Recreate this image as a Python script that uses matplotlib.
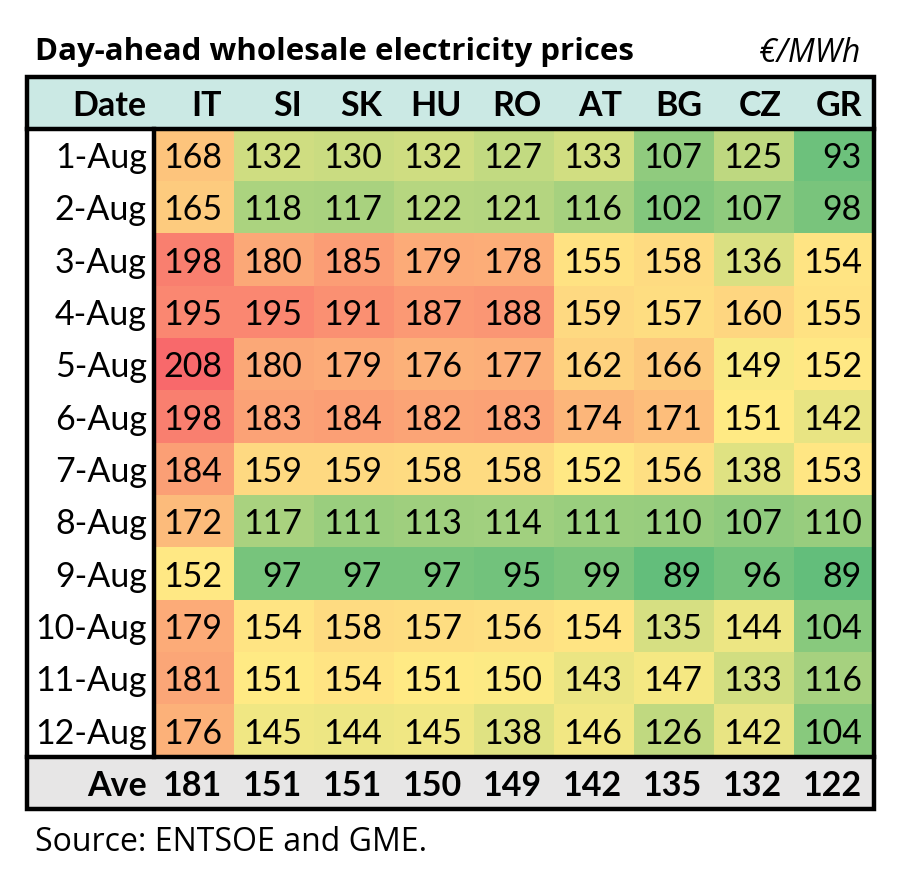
import numpy as np
import matplotlib
matplotlib.use("Agg")
import matplotlib.pyplot as plt
from matplotlib.colors import LinearSegmentedColormap, TwoSlopeNorm
from matplotlib.patches import Rectangle

countries = ["IT", "SI", "SK", "HU", "RO", "AT", "BG", "CZ", "GR"]
dates = ["1-Aug", "2-Aug", "3-Aug", "4-Aug", "5-Aug", "6-Aug", "7-Aug",
         "8-Aug", "9-Aug", "10-Aug", "11-Aug", "12-Aug"]
IT = [168, 165, 198, 195, 208, 198, 184, 172, 152, 179, 181, 176]
SI = [132, 118, 180, 195, 180, 183, 159, 117, 97, 154, 151, 145]
SK = [130, 117, 185, 191, 179, 184, 159, 111, 97, 158, 154, 144]
HU = [132, 122, 179, 187, 176, 182, 158, 113, 97, 157, 151, 145]
RO = [127, 121, 178, 188, 177, 183, 158, 114, 95, 156, 150, 138]
AT = [133, 116, 155, 159, 162, 174, 152, 111, 99, 154, 143, 146]
BG = [107, 102, 158, 157, 166, 171, 156, 110, 89, 135, 147, 126]
CZ = [125, 107, 136, 160, 149, 151, 138, 107, 96, 144, 133, 142]
GR = [93, 98, 154, 155, 152, 142, 153, 110, 89, 104, 116, 104]
averages = [181, 151, 151, 150, 149, 142, 135, 132, 122]

data = np.array([IT, SI, SK, HU, RO, AT, BG, CZ, GR]).T  # rows = dates

FONT = "Lato"
FONT2 = "Open Sans"
W, H = 908, 884
fig = plt.figure(figsize=(W / 100, H / 100), dpi=100)
fig.patch.set_facecolor("white")

# pixel geometry
left, right = 26.5, 874.0
top, bottom = 76.5, 809.0
date_w = 154.0 - left
col_w = (right - (left + date_w)) / len(countries)

dw = date_w / col_w
ax = fig.add_axes([left / W, 1 - bottom / H, (right - left) / W, (bottom - top) / H])
ax.set_xlim(-dw, len(countries))
ax.set_ylim(len(dates) + 1, -1)
ax.axis("off")

cmap = LinearSegmentedColormap.from_list(
    "excel3", ["#63BE7B", "#FFEB84", "#F8696B"])
norm = TwoSlopeNorm(vmin=data.min(), vcenter=np.percentile(data, 50), vmax=data.max())

xe = np.arange(len(countries) + 1)
ye = np.arange(len(dates) + 1)
ax.pcolormesh(xe, ye, data, cmap=cmap, norm=norm, shading="flat")

ax.add_patch(Rectangle((-dw, -1), dw + len(countries), 1, facecolor="#CBE9E4", edgecolor="none"))
ax.add_patch(Rectangle((-dw, len(dates)), dw + len(countries), 1, facecolor="#E7E6E6", edgecolor="none"))

fs = 24.5
pad = 0.15
ax.text(-0.09, -0.5, "Date", ha="right", va="center_baseline", fontsize=fs,
        fontweight="bold", family=FONT)
for j, c in enumerate(countries):
    ax.text(j + 1 - pad, -0.5, c, ha="right", va="center_baseline", fontsize=fs,
            fontweight="bold", family=FONT)
for i, d in enumerate(dates):
    ax.text(-0.09, i + 0.5, d, ha="right", va="center_baseline", fontsize=fs, family=FONT)
    for j in range(len(countries)):
        ax.text(j + 1 - pad, i + 0.5, f"{data[i, j]:d}", ha="right",
                va="center_baseline", fontsize=fs, family=FONT)
ya = len(dates) + 0.5
ax.text(-0.09, ya, "Ave", ha="right", va="center_baseline", fontsize=fs,
        fontweight="bold", family=FONT)
for j, v in enumerate(averages):
    ax.text(j + 1 - pad, ya, f"{v:d}", ha="right", va="center_baseline", fontsize=fs,
            fontweight="bold", family=FONT)

lw = 3.2
ax.add_patch(Rectangle((-dw, -1), dw + len(countries), len(dates) + 2,
                       facecolor="none", edgecolor="black", linewidth=lw, clip_on=False))
ax.plot([-dw, len(countries)], [0, 0], color="black", lw=lw, clip_on=False)
ax.plot([-dw, len(countries)], [len(dates), len(dates)], color="black", lw=lw, clip_on=False)
ax.plot([0, 0], [0, len(dates)], color="black", lw=lw, clip_on=False)

fig.text(35 / W, 1 - 60 / H, "Day-ahead wholesale electricity prices", ha="left",
         va="baseline", fontsize=22.5, fontweight="bold", family=FONT2)
fig.text(860 / W, 1 - 62 / H, "€/MWh", ha="right", va="baseline", fontsize=23,
         style="italic", family=FONT2)
fig.text(35 / W, 1 - 851 / H, "Source: ENTSOE and GME.", ha="left", va="baseline",
         fontsize=23, family=FONT2)

fig.savefig("out.png", dpi=100)
